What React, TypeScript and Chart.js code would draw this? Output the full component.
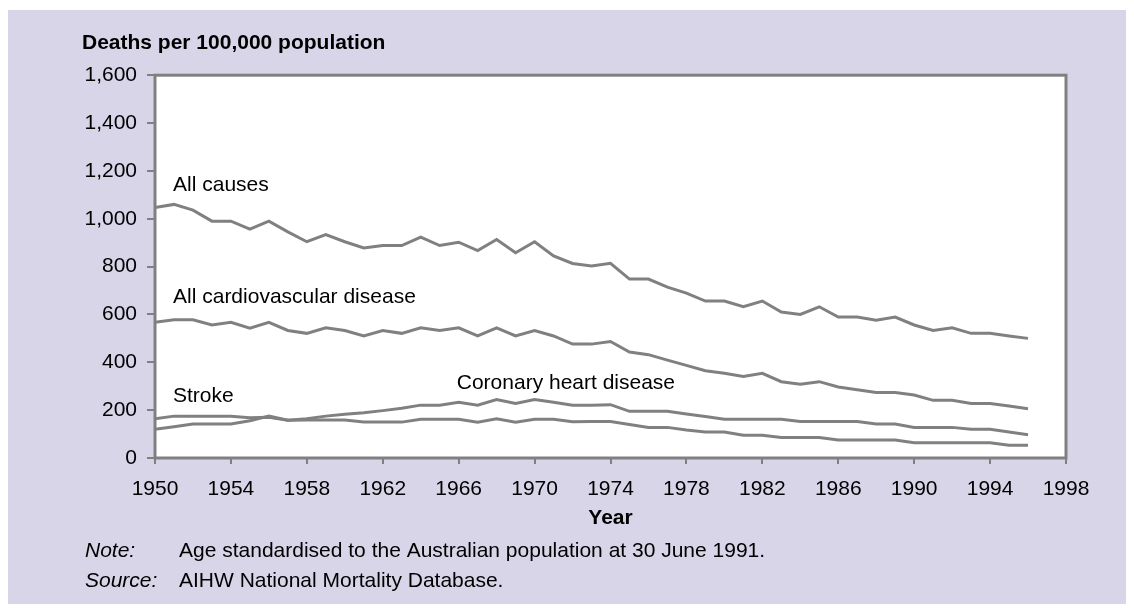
import React, { useEffect, useRef } from "react";
import { Chart, registerables } from "chart.js";

Chart.register(...registerables);

// ---------- data ----------
const years = [
  1950, 1951, 1952, 1953, 1954, 1955, 1956, 1957, 1958, 1959,
  1960, 1961, 1962, 1963, 1964, 1965, 1966, 1967, 1968, 1969,
  1970, 1971, 1972, 1973, 1974, 1975, 1976, 1977, 1978, 1979,
  1980, 1981, 1982, 1983, 1984, 1985, 1986, 1987, 1988, 1989,
  1990, 1991, 1992, 1993, 1994, 1995, 1996,
];

const allCauses = [
  1047, 1060, 1036, 990, 990, 957, 990, 945, 904, 934,
  904, 878, 888, 888, 923, 888, 902, 867, 913, 858,
  904, 845, 813, 803, 814, 748, 748, 714, 689, 656,
  656, 632, 656, 610, 600, 632, 589, 589, 576, 589,
  556, 533, 544, 521, 521, 510, 500,
];

const allCardiovascular = [
  567, 578, 578, 556, 567, 543, 567, 533, 521, 544,
  533, 510, 533, 521, 544, 533, 544, 510, 544, 510,
  533, 510, 476, 476, 487, 443, 432, 409, 387, 365,
  354, 341, 354, 319, 308, 319, 297, 285, 274, 274,
  263, 241, 241, 228, 228, 217, 206,
];

const coronaryHeart = [
  120, 131, 142, 142, 142, 156, 175, 158, 164, 175,
  183, 189, 198, 208, 221, 221, 233, 221, 244, 228,
  244, 233, 221, 221, 223, 195, 195, 195, 184, 173,
  162, 162, 162, 162, 153, 153, 153, 153, 142, 142,
  128, 128, 128, 120, 120, 109, 97,
];

const stroke = [
  164, 175, 175, 175, 175, 168, 170, 158, 159, 159,
  159, 150, 150, 150, 162, 162, 162, 150, 164, 150,
  162, 162, 152, 153, 153, 140, 128, 128, 117, 109,
  109, 95, 95, 86, 86, 86, 75, 75, 75, 75,
  64, 64, 64, 64, 64, 53, 53,
];

const seriesNames = ["All causes", "All cardiovascular disease", "Coronary heart disease", "Stroke"];
const seriesValues = [allCauses, allCardiovascular, coronaryHeart, stroke];

// in-chart series labels (year, value of the text baseline)
const labelTexts = ["All causes", "All cardiovascular disease", "Stroke", "Coronary heart disease"];
const labelYears = [1950.95, 1950.95, 1950.95, 1965.9];
const labelValues = [1115, 647, 235, 287];

const yMin = 0;
const yMax = 1600;
const yStep = 200;
const xMin = 1950;
const xMax = 1998;
const xStep = 4;

const titleText = "Deaths per 100,000 population";
const xTitle = "Year";
const noteLabel = "Note:";
const noteText = "Age standardised to the Australian population at 30 June 1991.";
const sourceLabel = "Source:";
const sourceText = "AIHW National Mortality Database.";

// ---------- style ----------
const FONT = "'Liberation Sans', Arial, Helvetica, sans-serif";
const PANEL = "#d9d5e9";
const LINE = "#808080";
const W = 1118;
const H = 596;

const decorPlugin = {
  id: "decor",
  beforeDraw(chart: any) {
    const { ctx, chartArea } = chart;
    ctx.save();
    ctx.fillStyle = "#ffffff";
    ctx.fillRect(0, 0, W, H);
    ctx.fillStyle = PANEL;
    ctx.fillRect(0, 2, W, H - 2);
    ctx.fillStyle = "#ffffff";
    ctx.fillRect(chartArea.left, chartArea.top, chartArea.right - chartArea.left, chartArea.bottom - chartArea.top);
    ctx.restore();
  },
  afterDatasetsDraw(chart: any) {
    const { ctx, chartArea, scales } = chart;
    ctx.save();
    ctx.strokeStyle = LINE;
    ctx.lineWidth = 3;
    ctx.strokeRect(chartArea.left, chartArea.top, chartArea.right - chartArea.left, chartArea.bottom - chartArea.top);
    ctx.fillStyle = "#000";
    ctx.font = `21px ${FONT}`;
    ctx.textAlign = "left";
    ctx.textBaseline = "alphabetic";
    for (let i = 0; i < labelTexts.length; i++) {
      const x = scales.x.getPixelForValue(labelYears[i]);
      const y = scales.y.getPixelForValue(labelValues[i]);
      ctx.fillText(labelTexts[i], x, y);
    }
    ctx.restore();
  },
  afterDraw(chart: any) {
    const { ctx } = chart;
    ctx.save();
    ctx.fillStyle = "#000";
    ctx.textAlign = "left";
    ctx.textBaseline = "alphabetic";
    ctx.font = `italic 21px ${FONT}`;
    ctx.fillText(noteLabel, 77, 549);
    ctx.fillText(sourceLabel, 77, 579);
    ctx.font = `21px ${FONT}`;
    ctx.fillText(noteText, 171, 549);
    ctx.fillText(sourceText, 171, 579);
    ctx.restore();
  },
};

export default function App() {
  const ref = useRef<HTMLCanvasElement | null>(null);

  useEffect(() => {
    const canvas = ref.current;
    if (!canvas) return;
    const chart = new Chart(canvas, {
      type: "line",
      data: {
        datasets: seriesNames.map((name, si) => ({
          label: name,
          data: years.map((yr, i) => ({ x: yr, y: seriesValues[si][i] })),
          borderColor: LINE,
          backgroundColor: LINE,
          borderWidth: 3,
          pointRadius: 0,
          tension: 0,
          fill: false,
        })),
      },
      options: {
        animation: false,
        responsive: false,
        devicePixelRatio: 1,
        layout: { padding: { left: 74, top: 10, right: 60, bottom: 0 } },
        plugins: {
          legend: { display: false },
          tooltip: { enabled: false },
          title: {
            display: true,
            text: titleText,
            align: "start",
            color: "#000",
            font: { family: FONT, size: 21, weight: "bold" },
            padding: { top: 13, bottom: 19 },
          },
        },
        scales: {
          x: {
            type: "linear",
            min: xMin,
            max: xMax,
            afterFit(scale: any) {
              scale.height = 146;
            },
            ticks: {
              stepSize: xStep,
              color: "#000",
              font: { family: FONT, size: 21 },
              padding: 13,
              maxRotation: 0,
              autoSkip: false,
              callback: (v: any) => String(v),
            },
            grid: {
              drawOnChartArea: false,
              drawTicks: true,
              tickLength: 6,
              color: LINE,
              lineWidth: 2,
            },
            border: { display: false },
            title: {
              display: true,
              text: xTitle,
              color: "#000",
              font: { family: FONT, size: 21, weight: "bold" },
              padding: { top: 0, bottom: 73 },
            },
          },
          y: {
            type: "linear",
            min: yMin,
            max: yMax,
            afterFit(scale: any) {
              scale.width = 73;
            },
            ticks: {
              stepSize: yStep,
              color: "#000",
              font: { family: FONT, size: 21 },
              padding: 10,
              callback: (v: any) => Number(v).toLocaleString("en-US"),
            },
            grid: {
              drawOnChartArea: false,
              drawTicks: true,
              tickLength: 8,
              color: LINE,
              lineWidth: 2,
            },
            border: { display: false },
          },
        },
      },
      plugins: [decorPlugin],
    } as any);
    return () => chart.destroy();
  }, []);

  return (
    <div>
      <canvas ref={ref} width={W} height={H} style={{ display: "block", width: W + "px", height: H + "px" }} />
    </div>
  );
}
